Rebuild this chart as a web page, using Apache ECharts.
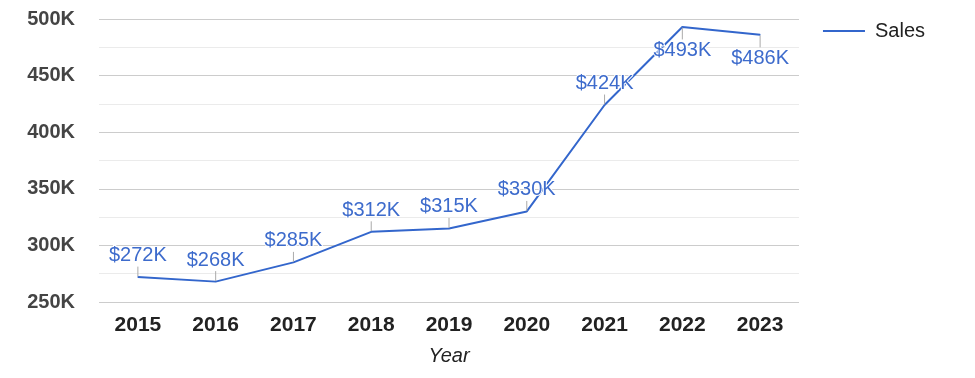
<!DOCTYPE html>
<html>
<head>
<meta charset="utf-8">
<script src="https://cdn.jsdelivr.net/npm/echarts@6/dist/echarts.min.js"></script>
<style>
  html, body { margin: 0; padding: 0; background: #fff; }
  #main { width: 975px; height: 378px; }
</style>
</head>
<body>
<div id="main"></div>
<script>
// sales by year, in dollars
var years = ['2015', '2016', '2017', '2018', '2019', '2020', '2021', '2022', '2023'];
var sales = [272000, 268000, 285000, 312000, 315000, 330000, 424000, 493000, 486000];
var labelBelow = ['2022', '2023']; // these labels sit under the point

var blue = '#3366CC';
var font = '"Liberation Sans", Arial, sans-serif';

function isBelow(i) {
    return labelBelow.indexOf(years[i]) >= 0;
}

var seriesData = sales.map(function (v, i) {
    return {
        value: v,
        label: { position: isBelow(i) ? 'bottom' : 'top' }
    };
});

var chart = echarts.init(document.getElementById('main'));
chart.setOption({
    animation: false,
    grid: { left: 99, right: 176, top: 19, bottom: 76 },
    legend: {
        right: 45,
        top: 16,
        itemWidth: 42,
        itemHeight: 2,
        icon: 'rect',
        itemStyle: { color: blue },
        textStyle: { fontSize: 20, color: '#222', fontFamily: font, padding: [0, 0, 0, 5] },
        data: ['Sales']
    },
    xAxis: {
        type: 'category',
        data: years,
        name: 'Year',
        nameLocation: 'middle',
        nameGap: 44,
        nameTextStyle: { fontSize: 20, fontStyle: 'italic', color: '#222', fontFamily: font },
        axisLine: { show: false },
        axisTick: { show: false },
        axisLabel: { fontSize: 21, fontWeight: 'bold', color: '#222', margin: 13, fontFamily: font }
    },
    yAxis: {
        type: 'value',
        min: 250000,
        max: 500000,
        interval: 50000,
        axisLine: { show: false },
        axisTick: { show: false },
        axisLabel: {
            fontSize: 20, fontWeight: 'bold', color: '#444', margin: 24,
            fontFamily: font,
            formatter: function (v) { return (v / 1000) + 'K'; }
        },
        splitLine: { lineStyle: { color: '#cccccc' } },
        minorTick: { show: false, splitNumber: 2 },
        minorSplitLine: { show: true, lineStyle: { color: '#ebebeb' } }
    },
    series: [{
        name: 'Sales',
        type: 'line',
        data: seriesData,
        symbol: 'circle',
        symbolSize: 1,
        lineStyle: { color: blue, width: 2 },
        itemStyle: { color: blue },
        label: {
            show: true,
            distance: 1,
            fontSize: 20,
            color: '#3d6bcc',
            fontFamily: font,
            textBorderColor: '#fff',
            textBorderWidth: 2,
            formatter: function (p) { return '$' + Math.round(p.value / 1000) + 'K'; }
        },
        labelLayout: function (params) {
            return { dy: isBelow(params.dataIndex) ? 12 : -10 };
        },
        labelLine: { show: true, lineStyle: { color: '#aaaaaa', width: 1 } }
    }]
});
</script>
</body>
</html>
